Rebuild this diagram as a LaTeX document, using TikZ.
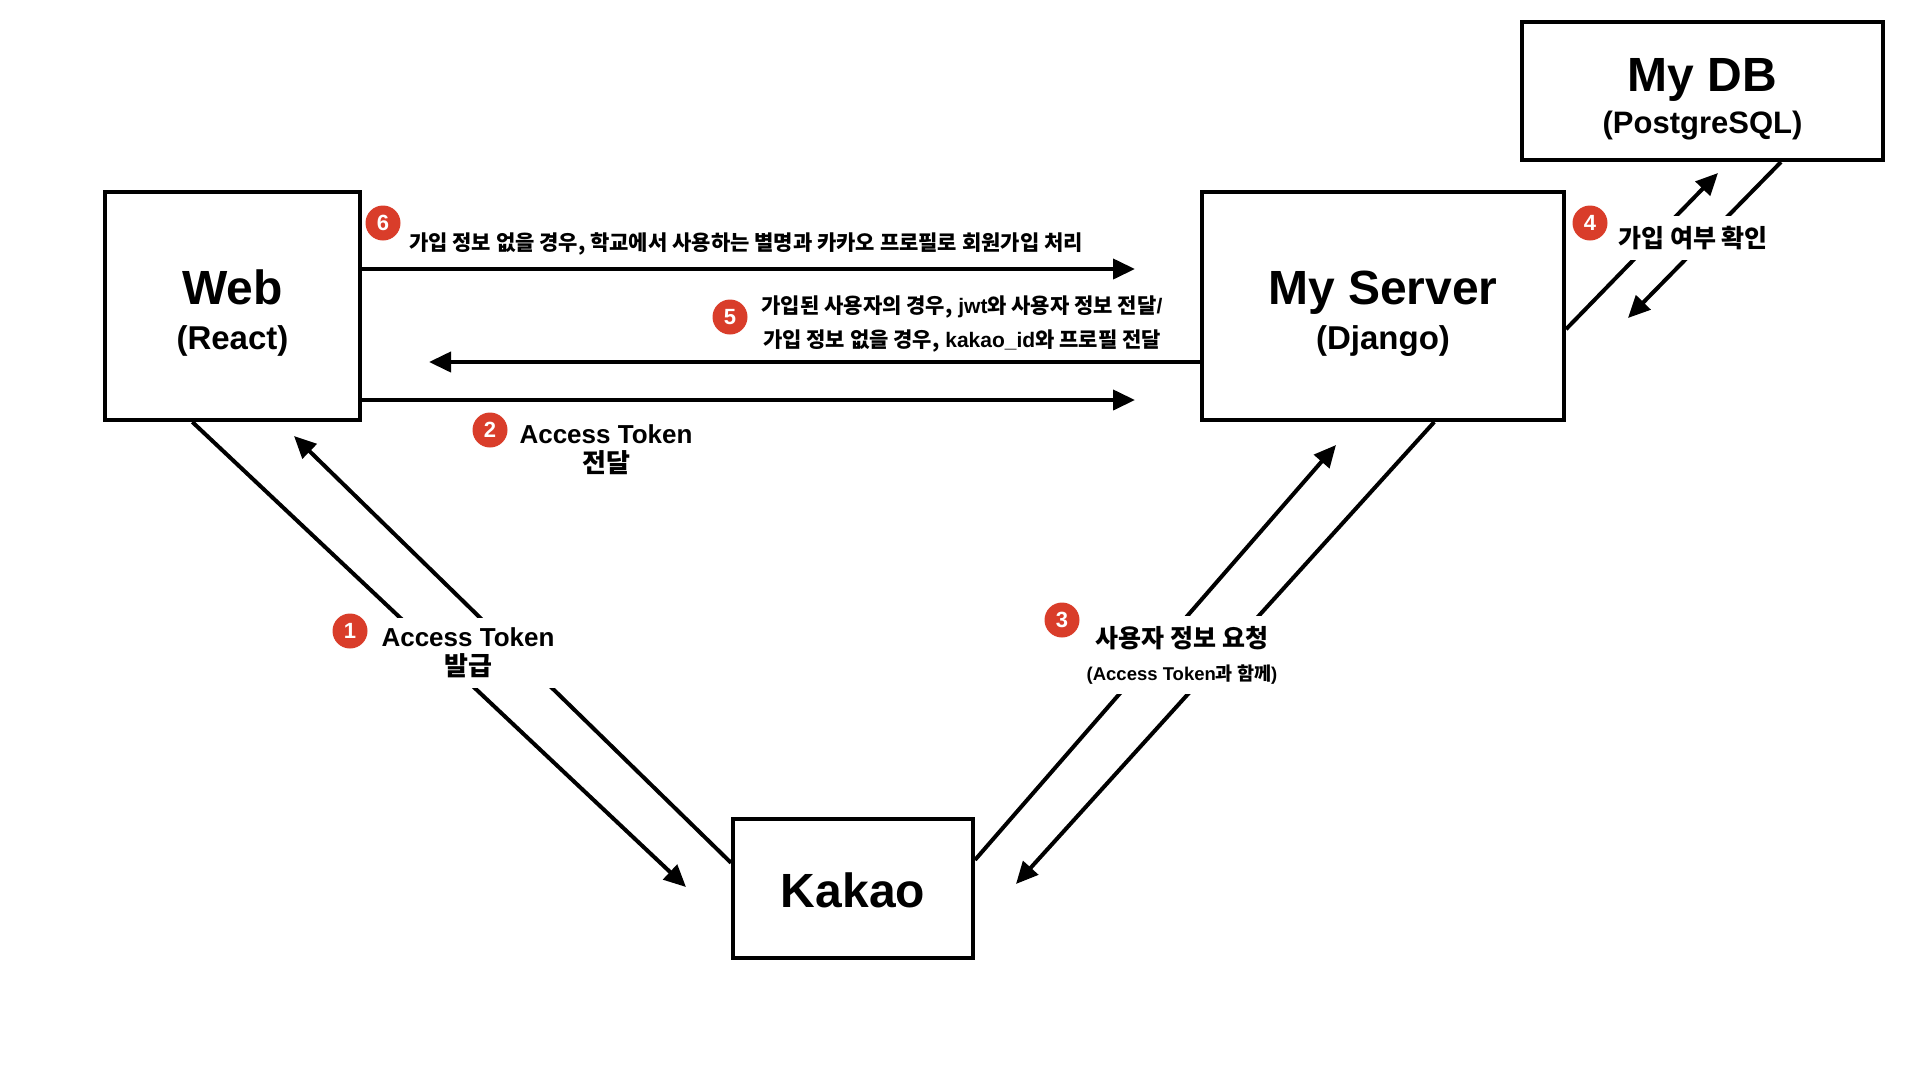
\documentclass[tikz,border=0pt]{standalone}
\usepackage{fontspec}
\setmainfont{Liberation Sans}
\newfontfamily\kr{Noto Sans CJK KR}
\usetikzlibrary{calc,positioning,arrows.meta}
\definecolor{badgered}{RGB}{217,61,42}
\newcommand{\ko}[1]{{\kr\bfseries #1}}
\newcommand{\bigfont}{\fontsize{48}{48}\selectfont\rule{0pt}{49pt}}

\begin{document}
\begin{tikzpicture}[x=1pt, y=-1pt,
  box/.style={draw, line width=4pt, align=center, font=\fontsize{33}{45}\selectfont\bfseries},
  flow/.style={line width=4pt, -{Triangle[length=22pt,width=20pt]}},
  badge/.style={circle, fill=badgered, text=white, minimum size=35pt,
    inner sep=0pt, font=\fontsize{22}{22}\selectfont\bfseries},
  lbl/.style={fill=white, align=center, inner xsep=3pt, inner ysep=10pt},
]
  \useasboundingbox (0,0) rectangle (1920,1080);

  % Boxes
  \node[box, minimum width=255pt, minimum height=228pt] (web) at (232.5,306)
    {{\bigfont Web}\\(React)};
  \node[box, minimum width=362pt, minimum height=228pt] (server) at (1383,306)
    {{\bigfont My Server}\\(Django)};
  \node[box, minimum width=361pt, minimum height=138pt, font=\fontsize{31}{42}\selectfont\bfseries] (db) at (1702.5,91)
    {{\bigfont My DB}\\(PostgreSQL)};
  \node[box, minimum width=240pt, minimum height=139pt] (kakao) at (853,888.5)
    {{\fontsize{48}{48}\selectfont\rule{0pt}{39pt}Kakao}};

  % Free ends
  \coordinate (a6) at (1135,269);
  \coordinate (a5) at (429,362);
  \coordinate (a2) at (1135,400);
  \coordinate (a1) at (686,887);
  \coordinate (r1) at (294,436);
  \coordinate (a3) at (1336,445);
  \coordinate (r3) at (1016,884);
  \coordinate (a4) at (1718,173);
  \coordinate (r4) at (1628,318);

  % Web <-> Server
  \draw[flow] (web.east |- a6) -- (a6);
  \draw[flow] (server.west |- a5) -- (a5);
  \draw[flow] (web.east |- a2) -- (a2);

  % Web <-> Kakao
  \draw[flow] ($(web.south west)!0.345!(web.south east)$) -- (a1);
  \draw[flow] ($(kakao.north west)!0.32!(kakao.south west)$) -- (r1);

  % Kakao <-> Server
  \draw[flow] ($(kakao.north east)!0.3!(kakao.south east)$) -- (a3);
  \draw[flow] ($(server.south west)!0.64!(server.south east)$) -- (r3);

  % Server <-> DB
  \draw[flow] ($(server.north east)!0.6!(server.south east)$) -- (a4);
  \draw[flow] ($(db.south west)!0.715!(db.south east)$) -- (r4);

  % Labels
  \node[lbl, font=\fontsize{26}{29}\selectfont\bfseries] (t1) at (468,653)
    {Access Token\\\ko{발급}};
  \node[lbl, font=\fontsize{26}{29}\selectfont\bfseries] (t2) at (606,450)
    {Access Token\\\ko{전달}};
  \node[lbl, font=\fontsize{18.5}{33}\selectfont\bfseries] (t3) at (1182,655)
    {{\fontsize{25}{33}\selectfont\ko{사용자 정보 요청}}\\(Access Token\ko{과 함께})};
  \node[lbl, font=\fontsize{25}{28}\selectfont\bfseries] (t4) at (1693,238)
    {\ko{가입 여부 확인}};
  \node[lbl, inner ysep=2pt, font=\fontsize{21}{34}\selectfont\bfseries] (t5) at (962,324)
    {\ko{가입된 사용자의 경우,} jwt\ko{와 사용자 정보 전달}/\\\ko{가입 정보 없을 경우,} kakao\_id\ko{와 프로필 전달}};
  \node[lbl, inner ysep=2pt, font=\fontsize{21}{34}\selectfont\bfseries] (t6) at (746,244)
    {\ko{가입 정보 없을 경우, 학교에서 사용하는 별명과 카카오 프로필로 회원가입 처리}};

  % Badges
  \node[badge] (b1) at (350,631) {1};
  \node[badge] (b2) at (490,430) {2};
  \node[badge] (b3) at (1062,620) {3};
  \node[badge] (b4) at (1590,223) {4};
  \node[badge] (b5) at (730,317) {5};
  \node[badge] (b6) at (383,223) {6};
\end{tikzpicture}
\end{document}
